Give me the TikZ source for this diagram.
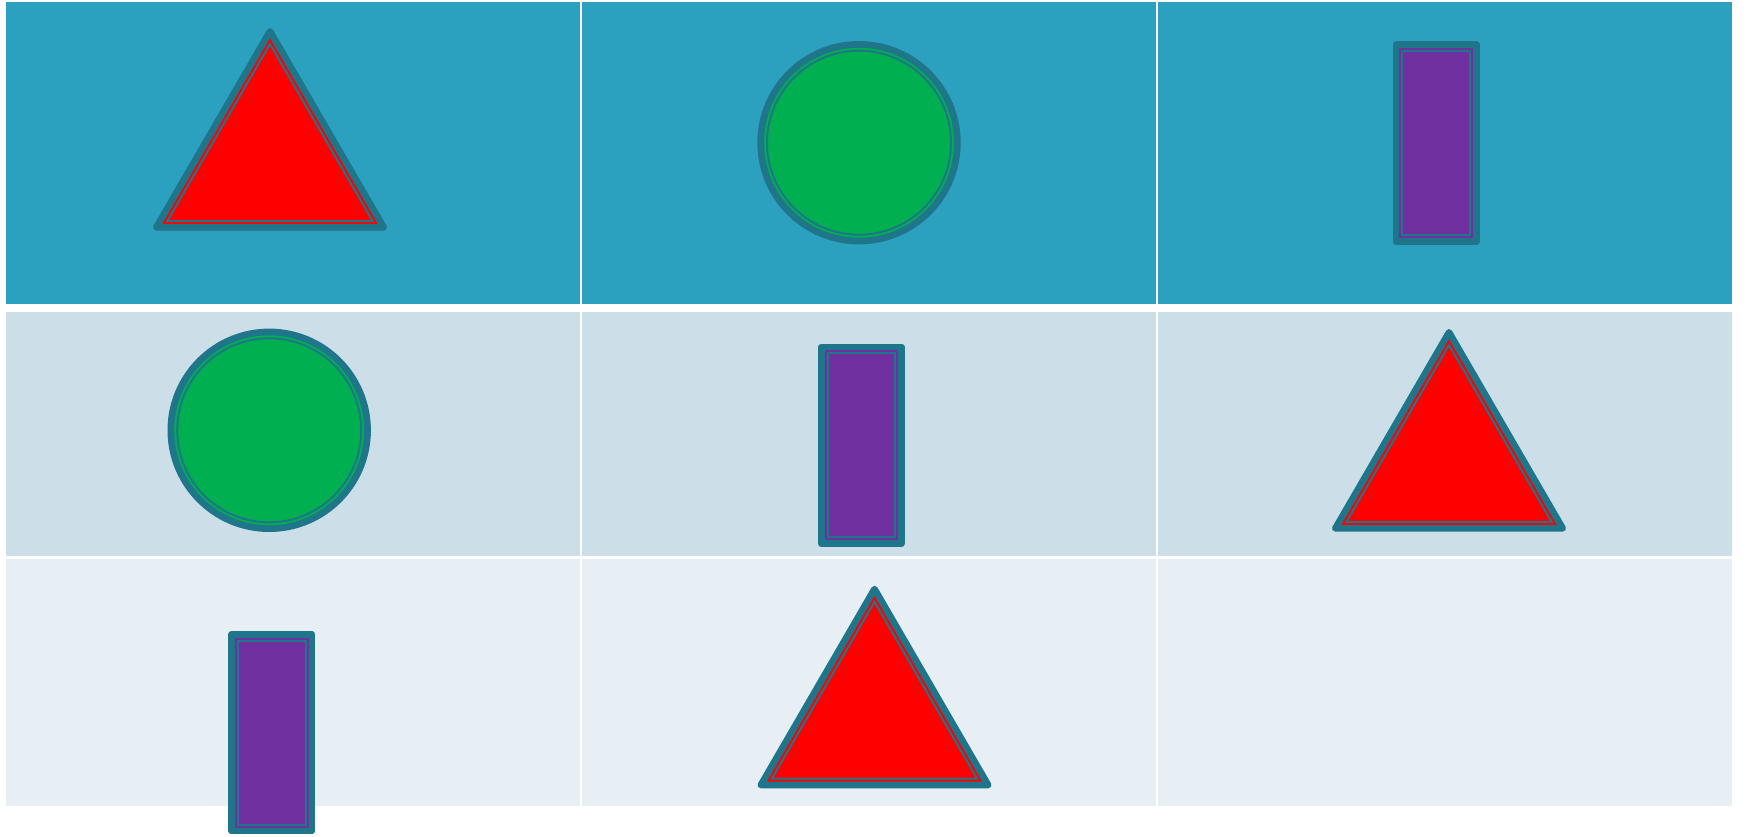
\documentclass[tikz,border=0pt]{standalone}
\definecolor{hdr}{RGB}{44,161,191}
\definecolor{rowa}{RGB}{204,223,232}
\definecolor{rowb}{RGB}{231,239,245}
\definecolor{edge}{RGB}{31,117,137}
\definecolor{shred}{RGB}{255,0,0}
\definecolor{shgreen}{RGB}{0,176,80}
\definecolor{shpurple}{RGB}{112,48,160}
\tikzset{
  outerline/.style={draw=edge, line width=3.35pt, line join=round},
  innerline/.style={draw=edge, line width=1pt},
  sepline/.style={draw=white, line width=1.25pt},
  trishape/.pic={
    \path[outerline, fill=shred] (0,3.35) -- (113.65,199.35) -- (-113.65,199.35) -- cycle;
    \path[innerline] (0,16.05) -- (102.65,193) -- (-102.65,193) -- cycle;
  },
  circshape/.pic={
    \path[outerline, fill=shgreen] (0,0) circle[radius=98.35];
    \path[innerline] (0,0) circle[radius=92];
  },
  barshape/.pic={
    \path[outerline, fill=shpurple] (-40.15,-98.4) rectangle (40.15,98.4);
    \path[innerline] (-33.8,-92.05) rectangle (33.8,92.05);
  }
}
\begin{document}
\begin{tikzpicture}[x=0.5pt,y=-0.5pt]
\useasboundingbox (0,0) rectangle (1748,836);
\fill[white] (0,0) rectangle (1748,836);
% table rows
\fill[hdr]  (6,2) rectangle (1732,304);
\fill[rowa] (6,312) rectangle (1732,556);
\fill[rowb] (6,558.7) rectangle (1732,806);
% column separators
\coordinate (s1t) at (581,2);   \coordinate (s1b) at (581,806);
\coordinate (s2t) at (1157,2);  \coordinate (s2b) at (1157,806);
\draw[sepline] (s1t) -- (s1b);
\draw[sepline] (s2t) -- (s2b);
% shapes
\pic (t1) at (270,28) {trishape};
\pic (c1) at (859,142.7) {circshape};
\pic (r1) at (1436,143) {barshape};
\pic (c2) at (269.2,430.3) {circshape};
\pic (r2) at (861.3,445.3) {barshape};
\pic (t2) at (1449,329) {trishape};
\pic (r3) at (271.8,732.7) {barshape};
\pic (t3) at (874.5,585.7) {trishape};
\end{tikzpicture}
\end{document}
